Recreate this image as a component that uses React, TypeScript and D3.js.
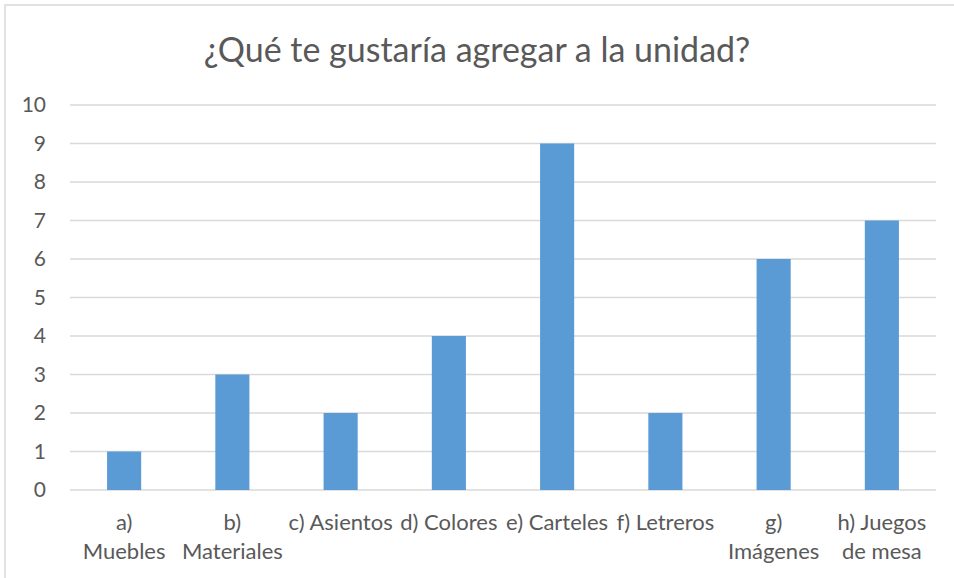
import * as d3 from "d3";
import { useEffect, useRef } from "react";

const categories = [
  ["a)", "Muebles"],
  ["b)", "Materiales"],
  ["c) Asientos"],
  ["d) Colores"],
  ["e) Carteles"],
  ["f) Letreros"],
  ["g)", "Imágenes"],
  ["h) Juegos", "de mesa"],
];
const values = [1, 3, 2, 4, 9, 2, 6, 7];
const yTicks = [0, 1, 2, 3, 4, 5, 6, 7, 8, 9, 10];
const title = "¿Qué te gustaría agregar a la unidad?";

const App = () => {
  const ref: any = useRef();

  useEffect(() => {
    const svg = d3.select(ref.current);
    svg.selectAll("*").remove();

    const width = 954, height = 578;
    const margin = { top: 105, right: 18, bottom: 88, left: 70 };
    const font = "Lato, 'Open Sans', sans-serif";
    const textColor = "#595959";

    // outer border (only top and left visible in the crop)
    svg.append("path")
      .attr("d", `M5,${height} V5 H${width}`)
      .attr("fill", "none")
      .attr("stroke", "#d9d9d9")
      .attr("stroke-width", 1.5);

    svg.append("text")
      .attr("x", 477)
      .attr("y", 62)
      .attr("text-anchor", "middle")
      .attr("font-family", font)
      .attr("font-size", 34)
      .attr("fill", textColor)
      .text(title);

    const x = d3.scaleBand()
      .domain(categories.map((_, i) => String(i)))
      .range([margin.left, width - margin.right])
      .padding(0);

    const y = d3.scaleLinear()
      .domain([0, 10])
      .range([height - margin.bottom, margin.top]);

    const g = svg.append("g");

    // gridlines
    g.selectAll(".grid")
      .data(yTicks)
      .enter().append("line")
      .attr("x1", margin.left)
      .attr("x2", width - margin.right)
      .attr("y1", (d) => y(d))
      .attr("y2", (d) => y(d))
      .attr("stroke", "#d9d9d9")
      .attr("stroke-width", 1.3);

    // y labels
    g.selectAll(".ylab")
      .data(yTicks)
      .enter().append("text")
      .attr("x", 46)
      .attr("y", (d) => y(d))
      .attr("dy", "0.35em")
      .attr("text-anchor", "end")
      .attr("font-family", font)
      .attr("font-size", 21)
      .attr("fill", textColor)
      .text((d) => d);

    // bars
    const barW = x.bandwidth() * 0.315;
    g.selectAll(".bar")
      .data(values)
      .enter().append("rect")
      .attr("x", (_, i) => x(String(i))! + x.bandwidth() / 2 - barW / 2)
      .attr("y", (d) => y(d))
      .attr("width", barW)
      .attr("height", (d) => y(0) - y(d))
      .attr("fill", "#5b9bd5");

    // x labels
    const labels = g.selectAll(".xlab")
      .data(categories)
      .enter().append("text")
      .attr("text-anchor", "middle")
      .attr("font-family", font)
      .attr("font-size", 22)
      .attr("fill", textColor);

    labels.each(function (d, i) {
      const t = d3.select(this);
      d.forEach((line, j) => {
        t.append("tspan")
          .attr("x", x(String(i))! + x.bandwidth() / 2)
          .attr("y", 530 + j * 29)
          .text(line);
      });
    });
  }, []);

  return (
    <svg
      ref={ref}
      width={954}
      height={578}
      style={{ position: "absolute", left: 0, top: 0, background: "#fff" }}
    />
  );
};

export default App;
